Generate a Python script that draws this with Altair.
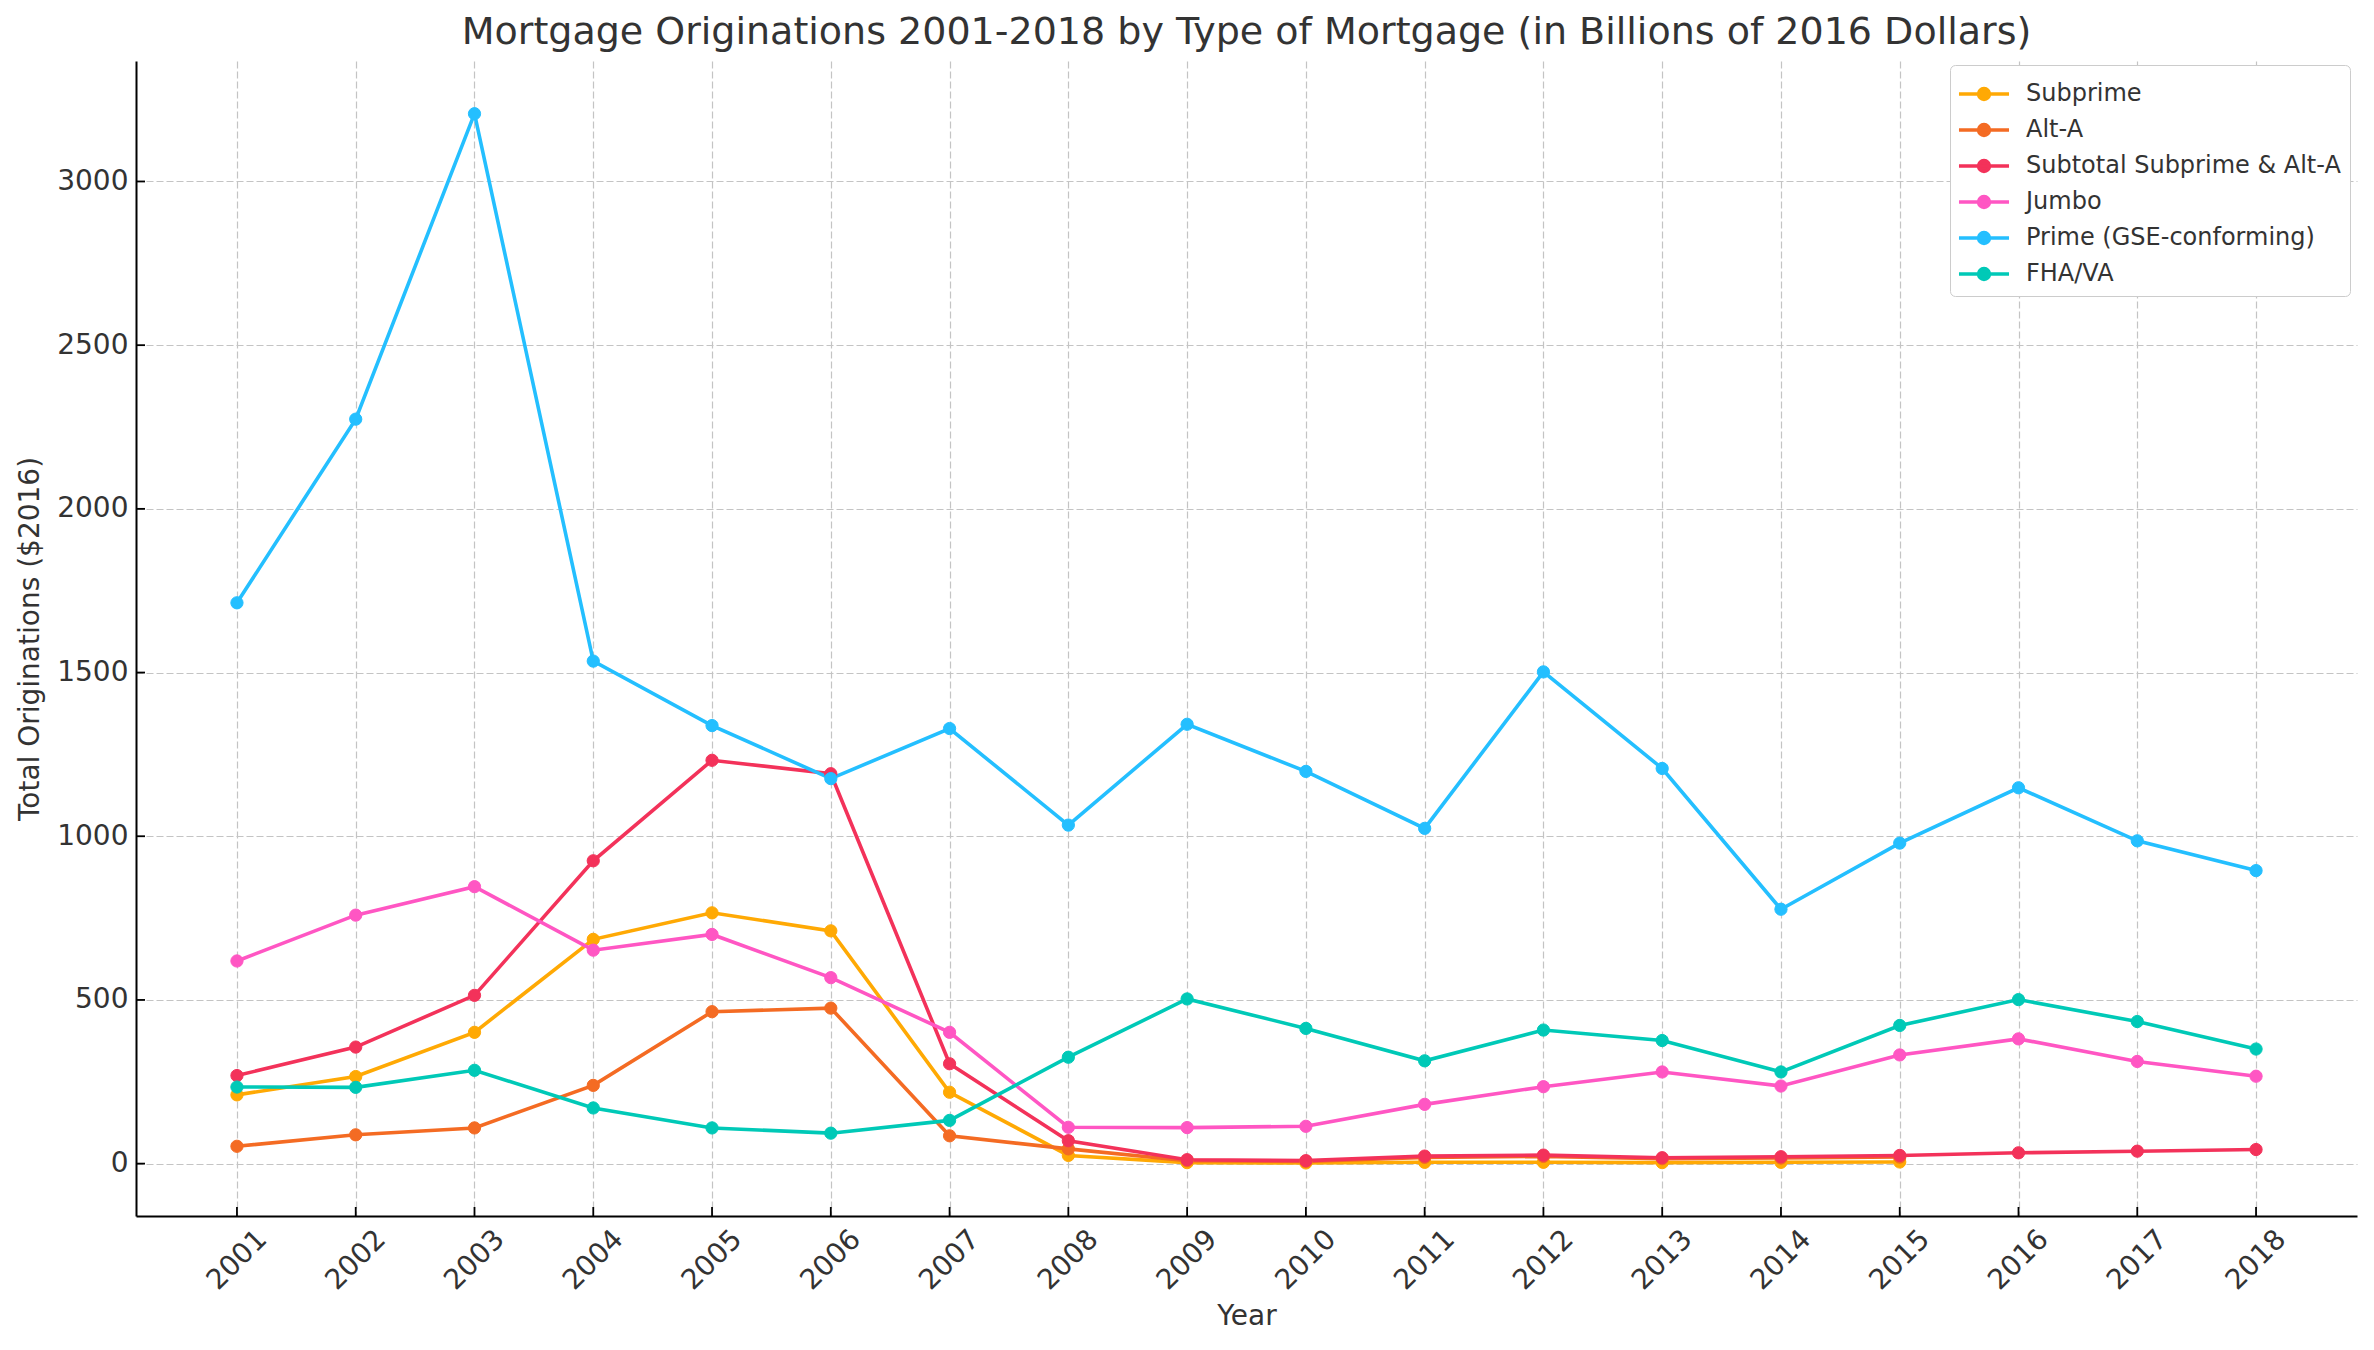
import altair as alt
import pandas as pd

years = list(range(2001, 2019))

# Subprime and Alt-A end in 2015
subprime = [210, 266, 401, 685, 766, 711, 218, 25, 3, 2, 4, 4, 3, 4, 5]
alt_a = [53, 88, 109, 239, 464, 475, 85, 45, 9, 7, 19, 22, 15, 17, 20]
subtotal = [269, 356, 514, 925, 1232, 1191, 305, 70, 12, 9, 23, 26, 18, 21, 25, 33, 38, 43]
jumbo = [619, 759, 846, 652, 700, 568, 401, 111, 110, 114, 181, 235, 280, 237, 332, 381, 312, 267]
prime = [1713, 2274, 3207, 1535, 1338, 1176, 1329, 1034, 1342, 1198, 1024, 1502, 1207, 777, 979, 1148, 986, 895]
fha = [234, 233, 285, 170, 109, 93, 132, 325, 503, 413, 314, 408, 376, 280, 422, 501, 434, 350]

series_names = ["Subprime", "Alt-A", "Subtotal Subprime & Alt-A", "Jumbo",
                "Prime (GSE-conforming)", "FHA/VA"]
series_colors = ["#FFA904", "#F46B23", "#F3325A", "#FF56C3", "#24BFFF", "#00C9B7"]
y_ticks = [0, 500, 1000, 1500, 2000, 2500, 3000]

rows = []
for idx, (name, vals) in enumerate(zip(series_names, [subprime, alt_a, subtotal, jumbo, prime, fha])):
    for yr, v in zip(years, vals):
        rows.append({"Year": yr, "Series": name, "Value": v, "k": idx})
df = pd.DataFrame(rows)

W, H = 2221, 1155
FONT = "DejaVu Sans"
TXT = "#333333"

xscale = alt.Scale(domain=[2000.15, 2018.85], nice=False, zero=False)
yscale = alt.Scale(domain=[-160, 3368], nice=False, zero=False)

xaxis = alt.Axis(values=years, format="d", labelAngle=315, labelAlign="center",
                 labelBaseline="middle", labelPadding=44, ticks=False,
                 labelFlush=False, labelOverlap=False, labelBound=False,
                 title="Year", titleY=100, titleBaseline="middle")
yaxis = alt.Axis(values=y_ticks, format="d", labelPadding=8, ticks=False, labelFlush=False,
                 labelOverlap=False, title="Total Originations ($2016)",
                 titleX=-106, titleBaseline="middle")

cscale = alt.Scale(domain=series_names, range=series_colors)

sym_path = "M-1.39,0L1.39,0M0.3,0A0.3,0.3,0,1,1,-0.3,0A0.3,0.3,0,1,1,0.3,0Z"

legend = alt.Legend(orient="none", legendX=1814, legendY=4, title=None,
                    symbolType=sym_path, symbolSize=1296, symbolStrokeWidth=3.6,
                    labelFontSize=24, labelFont=FONT, labelColor=TXT, labelLimit=500,
                    labelOffset=22, rowPadding=3, padding=9, symbolOffset=5,
                    fillColor="white", strokeColor="#cccccc", cornerRadius=5)

base = alt.Chart(df).encode(
    x=alt.X("Year:Q", scale=xscale, axis=xaxis),
    y=alt.Y("Value:Q", scale=yscale, axis=yaxis),
)

lines = base.mark_line(strokeWidth=3.6).encode(
    stroke=alt.Stroke("Series:N", scale=cscale, sort=series_names, legend=legend),
    order=alt.Order("Year:Q"),
)

points = base.mark_point(filled=True, size=150, opacity=1, strokeWidth=1).encode(
    fill=alt.Fill("Series:N", scale=cscale, sort=series_names, legend=legend),
    stroke=alt.Stroke("Series:N", scale=cscale, sort=series_names, legend=legend),
)

xt = alt.Chart(pd.DataFrame({"Year": years})).mark_rule(color="black", strokeWidth=1.8).encode(
    x=alt.X("Year:Q", scale=xscale),
    y=alt.value(H - 9), y2=alt.value(H),
)
yt = alt.Chart(pd.DataFrame({"Value": y_ticks})).mark_rule(color="black", strokeWidth=1.8).encode(
    y=alt.Y("Value:Q", scale=yscale),
    x=alt.value(0), x2=alt.value(9),
)

chart = alt.layer(lines, points, xt, yt).properties(
    width=W, height=H,
    autosize=alt.AutoSizeParams(type="none"),
    padding={"left": 128, "top": 53, "right": 9, "bottom": 126},
    title=alt.TitleParams(
        "Mortgage Originations 2001-2018 by Type of Mortgage (in Billions of 2016 Dollars)",
        fontSize=38, font=FONT, fontWeight="normal", color=TXT, anchor="middle",
        baseline="alphabetic", offset=-21, frame="group"),
).configure_axis(
    labelFont=FONT, titleFont=FONT, labelFontSize=28, titleFontSize=28,
    labelColor=TXT, titleColor=TXT, titleFontWeight="normal",
    domainColor="black", domainWidth=2,
    gridColor="#c4c4c4", gridDash=[7, 3], gridWidth=1.2,
).configure_view(stroke="transparent")

chart.save("out.html", embed_options={"renderer": "svg", "actions": False})
